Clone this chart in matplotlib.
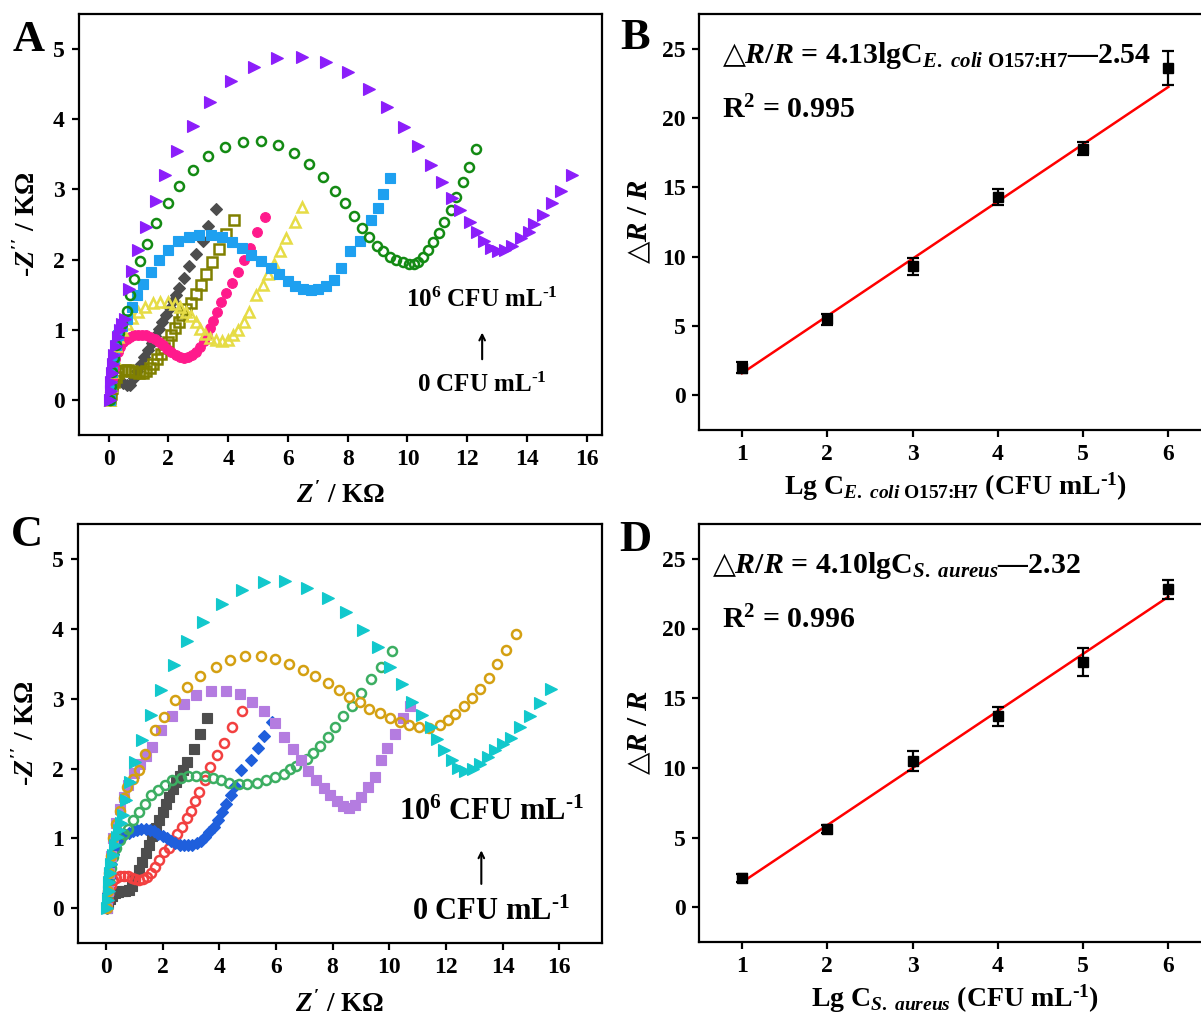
import matplotlib.pyplot as plt
import numpy as np

plt.rcParams['font.family'] = ['Liberation Serif', 'DejaVu Serif']
plt.rcParams['font.weight'] = 'bold'
plt.rcParams['axes.labelweight'] = 'bold'
plt.rcParams['mathtext.fontset'] = 'custom'
plt.rcParams['mathtext.rm'] = 'Liberation Serif:bold'
plt.rcParams['mathtext.it'] = 'Liberation Serif:italic:bold'
plt.rcParams['mathtext.bf'] = 'Liberation Serif:bold'
plt.rcParams['mathtext.sf'] = 'DejaVu Sans'
plt.rcParams['axes.linewidth'] = 1.6

# ---------------- panel A: Nyquist plots, E. coli O157:H7 ----------------
a_gray_x = [0.05, 0.08, 0.12, 0.18, 0.26, 0.36, 0.48, 0.60, 0.72, 0.84, 0.96, 1.08, 1.20, 1.32, 1.44,
            1.56, 1.68, 1.80, 1.92, 2.04, 2.16, 2.27, 2.37, 2.52, 2.70, 2.91, 3.15, 3.34, 3.59]
a_gray_y = [0.00, 0.08, 0.16, 0.23, 0.27, 0.27, 0.24, 0.21, 0.21, 0.31, 0.41, 0.51, 0.61, 0.71, 0.81,
            0.91, 1.01, 1.11, 1.21, 1.31, 1.41, 1.50, 1.60, 1.74, 1.91, 2.08, 2.27, 2.48, 2.72]
a_olive_x = [0.05, 0.08, 0.12, 0.17, 0.24, 0.32, 0.42, 0.54, 0.66, 0.78, 0.90, 1.02, 1.14, 1.26, 1.38,
             1.50, 1.62, 1.74, 1.86, 1.98, 2.10, 2.22, 2.34, 2.46, 2.60, 2.76, 2.91, 3.08, 3.26, 3.45,
             3.68, 3.94, 4.20]
a_olive_y = [0.00, 0.08, 0.17, 0.26, 0.33, 0.38, 0.41, 0.42, 0.42, 0.41, 0.40, 0.39, 0.39, 0.41, 0.45,
             0.51, 0.58, 0.66, 0.74, 0.83, 0.92, 1.02, 1.11, 1.21, 1.30, 1.38, 1.51, 1.64, 1.79, 1.96,
             2.15, 2.36, 2.56]
a_pink_x = [0.05, 0.08, 0.12, 0.17, 0.23, 0.30, 0.38, 0.48, 0.60, 0.72, 0.85, 0.98, 1.12, 1.26, 1.40,
            1.54, 1.68, 1.82, 1.96, 2.10, 2.24, 2.38, 2.52, 2.66, 2.80, 2.94, 3.07, 3.19, 3.30, 3.40,
            3.49, 3.62, 3.75, 3.94, 4.13, 4.33, 4.52, 4.74, 4.97, 5.22]
a_pink_y = [0.00, 0.15, 0.30, 0.45, 0.58, 0.68, 0.76, 0.82, 0.87, 0.90, 0.92, 0.93, 0.93, 0.92, 0.90,
            0.87, 0.83, 0.78, 0.73, 0.68, 0.64, 0.61, 0.60, 0.61, 0.64, 0.69, 0.76, 0.84, 0.93, 1.03,
            1.13, 1.26, 1.39, 1.52, 1.66, 1.83, 1.99, 2.17, 2.39, 2.60]
a_yellow_x = [0.05, 0.08, 0.12, 0.17, 0.24, 0.33, 0.45, 0.60, 0.78, 0.99, 1.22, 1.48, 1.73, 1.99, 2.21,
              2.40, 2.59, 2.76, 2.91, 3.07, 3.23, 3.40, 3.58, 3.79, 3.98, 4.17, 4.33, 4.52, 4.71, 4.94,
              5.16, 5.35, 5.55, 5.74, 5.93, 6.23, 6.48]
a_yellow_y = [0.00, 0.20, 0.40, 0.60, 0.77, 0.90, 0.99, 1.08, 1.17, 1.25, 1.33, 1.38, 1.40, 1.40, 1.37,
              1.32, 1.25, 1.19, 1.11, 1.01, 0.94, 0.88, 0.85, 0.84, 0.85, 0.92, 0.99, 1.11, 1.25, 1.50,
              1.64, 1.79, 1.94, 2.12, 2.31, 2.53, 2.75]
a_blue_x = [0.05, 0.08, 0.12, 0.17, 0.24, 0.33, 0.45, 0.60, 0.77, 0.95, 1.16, 1.41, 1.69, 1.99, 2.31,
            2.68, 3.04, 3.43, 3.79, 4.13, 4.45, 4.78, 5.10, 5.42, 5.71, 6.00, 6.25, 6.51, 6.77, 7.02,
            7.28, 7.54, 7.79, 8.07, 8.40, 8.79, 9.01, 9.18, 9.40]
a_blue_y = [0.00, 0.20, 0.40, 0.60, 0.78, 0.93, 1.05, 1.15, 1.32, 1.49, 1.65, 1.83, 2.00, 2.14, 2.26,
            2.32, 2.35, 2.35, 2.32, 2.25, 2.17, 2.07, 1.98, 1.88, 1.79, 1.70, 1.63, 1.58, 1.56, 1.58,
            1.62, 1.71, 1.88, 2.12, 2.26, 2.57, 2.74, 2.94, 3.16]
a_green_x = [0.05, 0.08, 0.12, 0.18, 0.26, 0.36, 0.45, 0.60, 0.71, 0.86, 1.05, 1.30, 1.60, 1.98, 2.36,
             2.82, 3.34, 3.90, 4.49, 5.10, 5.67, 6.21, 6.70, 7.17, 7.56, 7.92, 8.22, 8.48, 8.73, 8.97,
             9.18, 9.40, 9.63, 9.85, 10.04, 10.21, 10.36, 10.51, 10.68, 10.85, 11.04, 11.23, 11.45,
             11.64, 11.86, 12.05, 12.28]
a_green_y = [0.00, 0.20, 0.40, 0.60, 0.78, 0.95, 1.08, 1.27, 1.49, 1.72, 1.98, 2.22, 2.52, 2.80, 3.05,
             3.28, 3.47, 3.61, 3.68, 3.69, 3.64, 3.52, 3.36, 3.18, 2.98, 2.80, 2.62, 2.45, 2.32, 2.20,
             2.12, 2.04, 1.99, 1.96, 1.93, 1.93, 1.96, 2.04, 2.14, 2.25, 2.38, 2.53, 2.70, 2.89, 3.10,
             3.32, 3.57]
a_purple_x = [0.05, 0.07, 0.09, 0.12, 0.15, 0.19, 0.24, 0.30, 0.37, 0.45, 0.54, 0.67, 0.80, 0.99, 1.25,
              1.57, 1.89, 2.30, 2.82, 3.40, 4.11, 4.87, 5.65, 6.47, 7.28, 8.01, 8.72, 9.33, 9.89, 10.36,
              10.78, 11.17, 11.49, 11.77, 12.09, 12.32, 12.57, 12.80, 13.03, 13.25, 13.51, 13.80,
              14.06, 14.24, 14.53, 14.83, 15.15, 15.49]
a_purple_y = [0.00, 0.12, 0.25, 0.38, 0.51, 0.64, 0.77, 0.89, 1.00, 1.08, 1.15, 1.58, 1.84, 2.13, 2.46,
              2.84, 3.20, 3.55, 3.91, 4.25, 4.54, 4.75, 4.87, 4.89, 4.82, 4.67, 4.43, 4.18, 3.89, 3.62,
              3.35, 3.10, 2.88, 2.70, 2.53, 2.39, 2.26, 2.17, 2.12, 2.14, 2.20, 2.31, 2.40, 2.51, 2.64,
              2.80, 2.98, 3.21]

# ---------------- panel C: Nyquist plots, S. aureus ----------------
c_gray_x = [0.05, 0.08, 0.13, 0.20, 0.30, 0.42, 0.55, 0.68, 0.80, 0.92, 1.04, 1.16, 1.28, 1.40, 1.52,
            1.64, 1.76, 1.88, 2.00, 2.12, 2.24, 2.36, 2.48, 2.60, 2.72, 2.87, 3.10, 3.33, 3.57]
c_gray_y = [0.00, 0.07, 0.13, 0.18, 0.22, 0.24, 0.25, 0.25, 0.26, 0.32, 0.43, 0.55, 0.67, 0.79, 0.91,
            1.03, 1.15, 1.27, 1.38, 1.49, 1.60, 1.71, 1.81, 1.90, 1.98, 2.10, 2.28, 2.50, 2.73]
c_red_x = [0.05, 0.08, 0.12, 0.18, 0.26, 0.36, 0.48, 0.62, 0.76, 0.90, 1.04, 1.18, 1.32, 1.46, 1.60,
           1.74, 1.88, 2.06, 2.22, 2.36, 2.52, 2.67, 2.86, 2.99, 3.14, 3.30, 3.50, 3.68, 3.91, 4.18,
           4.45, 4.81]
c_red_y = [0.00, 0.12, 0.23, 0.33, 0.40, 0.44, 0.46, 0.47, 0.46, 0.44, 0.42, 0.41, 0.42, 0.45, 0.51,
           0.59, 0.69, 0.80, 0.87, 0.97, 1.06, 1.17, 1.29, 1.40, 1.54, 1.66, 1.84, 2.02, 2.19, 2.37,
           2.59, 2.83]
c_blue_x = [0.05, 0.08, 0.12, 0.17, 0.23, 0.30, 0.40, 0.52, 0.65, 0.80, 0.95, 1.10, 1.25, 1.40, 1.55,
            1.70, 1.85, 2.00, 2.15, 2.30, 2.45, 2.60, 2.75, 2.90, 3.05, 3.20, 3.35, 3.50, 3.65, 3.80,
            3.95, 4.10, 4.25, 4.40, 4.55, 4.78, 5.12, 5.35, 5.59, 5.86]
c_blue_y = [0.00, 0.22, 0.44, 0.64, 0.78, 0.87, 0.95, 1.01, 1.05, 1.08, 1.10, 1.12, 1.13, 1.13, 1.12,
            1.10, 1.07, 1.04, 1.00, 0.96, 0.93, 0.91, 0.90, 0.90, 0.91, 0.93, 0.97, 1.02, 1.09, 1.17,
            1.27, 1.38, 1.50, 1.62, 1.75, 1.98, 2.13, 2.29, 2.46, 2.67]
c_green_x = [0.05, 0.08, 0.12, 0.18, 0.26, 0.36, 0.48, 0.62, 0.78, 0.94, 1.15, 1.39, 1.59, 1.85, 2.09,
             2.33, 2.63, 2.90, 3.19, 3.50, 3.77, 4.07, 4.35, 4.68, 4.99, 5.32, 5.66, 5.97, 6.27, 6.51,
             6.71, 7.08, 7.32, 7.55, 7.82, 8.09, 8.38, 8.67, 8.99, 9.34, 9.70, 10.11]
c_green_y = [0.00, 0.20, 0.40, 0.58, 0.74, 0.87, 0.98, 1.06, 1.14, 1.27, 1.38, 1.50, 1.62, 1.70, 1.77,
             1.83, 1.87, 1.90, 1.90, 1.89, 1.87, 1.84, 1.79, 1.78, 1.78, 1.80, 1.83, 1.88, 1.92, 1.99,
             2.03, 2.14, 2.22, 2.33, 2.45, 2.59, 2.75, 2.90, 3.08, 3.28, 3.46, 3.68]
c_lav_x = [0.05, 0.08, 0.12, 0.18, 0.26, 0.36, 0.48, 0.62, 0.78, 0.98, 1.20, 1.40, 1.62, 1.93, 2.32,
           2.74, 3.19, 3.71, 4.22, 4.72, 5.16, 5.59, 5.97, 6.29, 6.60, 6.90, 7.14, 7.41, 7.68, 7.91,
           8.15, 8.38, 8.58, 8.79, 8.99, 9.26, 9.50, 9.70, 9.93, 10.20, 10.47, 10.74]
c_lav_y = [0.00, 0.25, 0.50, 0.75, 1.00, 1.22, 1.42, 1.60, 1.77, 1.93, 2.06, 2.18, 2.31, 2.55, 2.75,
           2.92, 3.05, 3.11, 3.11, 3.07, 2.95, 2.82, 2.65, 2.45, 2.28, 2.12, 1.96, 1.84, 1.72, 1.62,
           1.53, 1.47, 1.43, 1.48, 1.59, 1.73, 1.88, 2.13, 2.29, 2.50, 2.72, 2.89]
c_gold_x = [0.05, 0.08, 0.12, 0.18, 0.26, 0.36, 0.48, 0.62, 0.74, 0.94, 1.15, 1.39, 1.73, 2.06, 2.45,
            2.87, 3.33, 3.87, 4.38, 4.92, 5.46, 5.97, 6.47, 6.94, 7.39, 7.82, 8.22, 8.58, 8.96, 9.30,
            9.68, 10.04, 10.38, 10.71, 11.05, 11.39, 11.79, 12.06, 12.33, 12.63, 12.91, 13.21, 13.52,
            13.81, 14.12, 14.46]
c_gold_y = [0.00, 0.25, 0.50, 0.75, 1.00, 1.20, 1.40, 1.58, 1.74, 1.85, 1.98, 2.21, 2.55, 2.74, 2.98,
            3.17, 3.33, 3.46, 3.55, 3.61, 3.61, 3.57, 3.50, 3.41, 3.33, 3.23, 3.12, 3.03, 2.95, 2.85,
            2.79, 2.72, 2.67, 2.63, 2.59, 2.58, 2.63, 2.69, 2.78, 2.89, 3.01, 3.14, 3.30, 3.49, 3.69,
            3.92]
c_cyan_x = [0.05, 0.07, 0.09, 0.12, 0.15, 0.19, 0.24, 0.30, 0.37, 0.45, 0.52, 0.61, 0.71, 0.85, 1.01,
            1.28, 1.59, 1.95, 2.39, 2.87, 3.44, 4.08, 4.81, 5.57, 6.33, 7.10, 7.82, 8.49, 9.07, 9.61,
            10.04, 10.44, 10.82, 11.16, 11.46, 11.70, 11.95, 12.20, 12.44, 12.67, 12.94, 13.21, 13.48,
            13.75, 14.02, 14.29, 14.62, 14.96, 15.32, 15.70]
c_cyan_y = [0.00, 0.12, 0.25, 0.38, 0.51, 0.64, 0.77, 0.90, 1.02, 1.12, 1.22, 1.34, 1.55, 1.81, 2.10,
            2.41, 2.77, 3.13, 3.48, 3.83, 4.10, 4.36, 4.55, 4.67, 4.68, 4.59, 4.44, 4.24, 3.98, 3.74,
            3.46, 3.21, 2.96, 2.77, 2.60, 2.42, 2.26, 2.12, 2.01, 1.97, 1.99, 2.07, 2.16, 2.27, 2.35,
            2.44, 2.59, 2.75, 2.94, 3.14]

# ---------------- panels B and D: calibration ----------------
lg_conc = [1, 2, 3, 4, 5, 6]
b_resp = [2.0, 5.5, 9.3, 14.3, 17.8, 23.6]
b_err = [0.4, 0.4, 0.6, 0.6, 0.5, 1.2]
b_slope, b_icpt = 4.13, -2.54
d_resp = [2.1, 5.6, 10.5, 13.7, 17.6, 22.8]
d_err = [0.3, 0.3, 0.7, 0.7, 1.0, 0.7]
d_slope, d_icpt = 4.10, -2.32

# (x, y, marker, color, filled, size) drawn in this order
a_series = [(a_gray_x, a_gray_y, 'D', '#4d4d4d', True, 6.5),
            (a_olive_x, a_olive_y, 's', '#808000', False, 6.5),
            (a_pink_x, a_pink_y, 'o', '#ff1a8c', True, 7),
            (a_yellow_x, a_yellow_y, '^', '#e6dc46', False, 7.5),
            (a_blue_x, a_blue_y, 's', '#1ea0f0', True, 7),
            (a_green_x, a_green_y, 'o', '#138a13', False, 6.5),
            (a_purple_x, a_purple_y, '>', '#8c1efa', True, 8)]
c_series = [(c_gray_x, c_gray_y, 's', '#4d4d4d', True, 7),
            (c_red_x, c_red_y, 'o', '#f24040', False, 6.5),
            (c_blue_x, c_blue_y, 'D', '#1f5fdc', True, 6.5),
            (c_green_x, c_green_y, 'o', '#3cae62', False, 6.5),
            (c_lav_x, c_lav_y, 's', '#b47ce0', True, 7),
            (c_gold_x, c_gold_y, 'o', '#d4a012', False, 6.5),
            (c_cyan_x, c_cyan_y, '>', '#12c8cc', True, 8)]

fig = plt.figure(figsize=(12.01, 10.26), dpi=100)
W, H = 1201, 1026


def box(l, t, r, b):
    return [l / W, 1 - b / H, (r - l) / W, (b - t) / H]


axA = fig.add_axes(box(78.7, 14, 601.7, 435))
axB = fig.add_axes(box(699.3, 14, 1211, 430))
axC = fig.add_axes(box(77.7, 524, 601.7, 943.3))
axD = fig.add_axes(box(699.3, 524, 1211, 942))

TRI = r"$\mathsf{△}$"
PER_ML = r"mL$^{\text{-1}}$"


def style(ax):
    ax.tick_params(direction='out', length=5, width=1.6, labelsize=17, pad=5,
                   top=False, right=False)
    for lab in ax.get_xticklabels() + ax.get_yticklabels():
        lab.set_fontweight('bold')


def nyquist(ax, series, xmax, lab_x, lab_y, arr_x, arr_y0, arr_y1, zero_y, fs):
    for x, y, m, c, filled, s in series:
        ax.plot(x, y, ls='none', marker=m, ms=s, mec=c, mfc=c if filled else 'none',
                mew=1.8 if not filled else 0.8)
    ax.set_xlim(-1, xmax)
    ax.set_ylim(-0.5, 5.5)
    ax.set_xticks(np.arange(0, 17, 2))
    ax.set_yticks(np.arange(0, 6, 1))
    ax.set_xlabel(r"$\mathit{Z'}$ / KΩ", fontsize=19.5, labelpad=9)
    ax.set_ylabel(r"-$\mathit{Z''}$ / KΩ", fontsize=20, labelpad=9)
    ax.text(lab_x, lab_y, r"10$^{6}$ CFU " + PER_ML, fontsize=fs, ha='center', va='center')
    ax.annotate('', xy=(arr_x, arr_y1), xytext=(arr_x, arr_y0),
                arrowprops=dict(arrowstyle='->', lw=1.5, color='black'))
    ax.text(lab_x, zero_y, r"0 CFU " + PER_ML, fontsize=fs, ha='center', va='center')
    style(ax)


def calib(ax, resp, err, slope, icpt, eq, r2, xlab, eq_x, eq_fs):
    xs = np.array([lg_conc[0], lg_conc[-1]])
    ax.plot(xs, slope * xs + icpt, color='red', lw=1.8, zorder=2)
    ax.errorbar(lg_conc, resp, yerr=err, fmt='s', color='black', ms=7, capsize=4,
                elinewidth=1.6, capthick=1.6, zorder=3)
    ax.set_xlim(0.5, 6.5)
    ax.set_ylim(-2.5, 27.5)
    ax.set_xticks(lg_conc)
    ax.set_yticks(np.arange(0, 26, 5))
    ax.set_xlabel(xlab, fontsize=20, labelpad=4)
    ax.set_ylabel(TRI + r"$\mathit{R}$ / $\mathit{R}$", fontsize=21, labelpad=6)
    ax.text(eq_x, 0.9, eq, transform=ax.transAxes, fontsize=eq_fs, va='center')
    ax.text(0.045, 0.77, r2, transform=ax.transAxes, fontsize=21.5, va='center')
    style(ax)


nyquist(axA, a_series, 16.5, 12.5, 1.43, 12.5, 0.54, 1.0, 0.21, 18)
nyquist(axC, c_series, 17.5, 13.6, 1.37, 13.25, 0.31, 0.87, -0.06, 22)

calib(axB, b_resp, b_err, b_slope, b_icpt,
      TRI + r"$\mathit{R}/\mathit{R}$ = 4.13lgC$_{\mathit{E.\ coli}\ \text{O157:H7}}$—2.54",
      r"R$^{2}$ = 0.995",
      r"Lg C$_{\mathit{E.\ coli}\ \text{O157:H7}}$ (CFU " + PER_ML + ")", 0.045, 21.5)
calib(axD, d_resp, d_err, d_slope, d_icpt,
      TRI + r"$\mathit{R}/\mathit{R}$ = 4.10lgC$_{\mathit{S.\ aureus}}$—2.32",
      r"R$^{2}$ = 0.996",
      r"Lg C$_{\mathit{S.\ aureus}}$ (CFU " + PER_ML + ")", 0.025, 21.5)

for lab, px, py in [('A', 29, 40), ('B', 635, 38), ('C', 27, 535), ('D', 635, 540)]:
    fig.text(px / W, 1 - py / H, lab, fontsize=32, fontweight='bold', ha='center', va='center')

fig.savefig('out.png', dpi=100)
